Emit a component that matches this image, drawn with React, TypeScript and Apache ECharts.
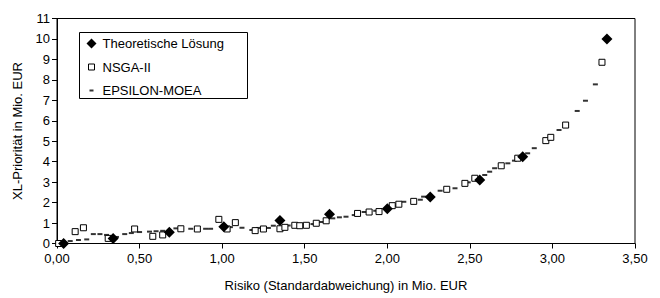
import React, { useEffect, useRef } from "react";
import * as echarts from "echarts";

const xTickLabels = ["0,00", "0,50", "1,00", "1,50", "2,00", "2,50", "3,00", "3,50"];
const yTickLabels = ["0", "1", "2", "3", "4", "5", "6", "7", "8", "9", "10", "11"];

const seriesNames = ["Theoretische Lösung", "NSGA-II", "EPSILON-MOEA"];

const theoretisch: number[][] = [
  [0.04, 0], [0.34, 0.25], [0.68, 0.55], [1.01, 0.82], [1.35, 1.12], [1.65, 1.43],
  [2.0, 1.7], [2.26, 2.27], [2.56, 3.1], [2.82, 4.24], [3.33, 10.0],
];

const nsga: number[][] = [
  [0.01, 0], [0.11, 0.58], [0.16, 0.77], [0.31, 0.25], [0.47, 0.71], [0.58, 0.35],
  [0.64, 0.42], [0.75, 0.72], [0.85, 0.71], [0.98, 1.18], [1.03, 0.71], [1.08, 1.02],
  [1.2, 0.63], [1.25, 0.71], [1.35, 0.72], [1.38, 0.79], [1.44, 0.89], [1.47, 0.87],
  [1.51, 0.89], [1.57, 0.99], [1.63, 1.11], [1.82, 1.47], [1.89, 1.54], [1.95, 1.56],
  [2.03, 1.85], [2.07, 1.92], [2.16, 2.06], [2.36, 2.65], [2.47, 2.94], [2.53, 3.19],
  [2.69, 3.8], [2.79, 4.17], [2.96, 5.03], [2.99, 5.19], [3.08, 5.79], [3.3, 8.86],
];

const epsilon: number[][] = [
  [0.08, 0.12], [0.13, 0.17], [0.18, 0.2], [0.22, 0.46], [0.26, 0.46], [0.3, 0.42],
  [0.36, 0.32], [0.41, 0.46], [0.45, 0.51], [0.5, 0.56], [0.56, 0.58], [0.6, 0.6],
  [0.64, 0.62], [0.72, 0.74], [0.81, 0.72], [0.9, 0.72], [0.93, 0.72], [1.05, 0.8],
  [1.12, 0.77], [1.18, 0.66], [1.22, 0.76], [1.28, 0.76], [1.31, 0.87], [1.4, 0.88],
  [1.46, 0.9], [1.55, 0.95], [1.6, 1.05], [1.67, 1.23], [1.71, 1.28], [1.75, 1.31],
  [1.8, 1.39], [1.86, 1.54], [1.93, 1.6], [2.0, 1.72], [2.05, 1.85], [2.1, 2.04],
  [2.2, 2.14], [2.22, 2.29], [2.32, 2.58], [2.41, 2.7], [2.49, 2.99], [2.59, 3.35],
  [2.62, 3.51], [2.65, 3.68], [2.73, 3.92], [2.77, 4.05], [2.85, 4.41], [2.89, 4.66],
  [2.99, 5.27], [3.04, 5.55], [3.15, 6.48], [3.2, 6.98], [3.26, 7.78],
];

const FONT = "Liberation Sans, Arial, sans-serif";

export default function App() {
  const ref = useRef<HTMLDivElement>(null);
  useEffect(() => {
    document.body.style.margin = "0";
    if (!ref.current) return;
    const chart = echarts.init(ref.current, null, { renderer: "svg" });
    const txt = { color: "#000", fontFamily: FONT, fontSize: 13 };
    chart.setOption({
      animation: false,
      backgroundColor: "#fff",
      textStyle: { fontFamily: FONT },
      grid: {
        left: 57, right: 25, top: 18.5, bottom: 54.5,
        show: true, borderColor: "#000", borderWidth: 1, backgroundColor: "transparent",
      },
      graphic: [
        {
          type: "rect", left: 79, top: 32, z: 0,
          shape: { width: 168, height: 66 },
          style: { fill: "#fff", stroke: "#000", lineWidth: 1 },
        },
      ],
      legend: {
        orient: "vertical", left: 85, top: 37, padding: 0, itemGap: 10.5,
        itemWidth: 12, itemHeight: 12, z: 10,
        textStyle: { ...txt },
        data: [
          {
            name: seriesNames[0],
            icon: "path://M0,0L0,0M12,12L12,12M6,1L11,6L6,11L1,6Z",
            itemStyle: { color: "#000", borderWidth: 0 },
          },
          {
            name: seriesNames[1],
            icon: "path://M0,0L0,0M12,12L12,12M3,3L9,3L9,9L3,9Z",
            itemStyle: { color: "#fff", borderColor: "#000", borderWidth: 1 },
          },
          {
            name: seriesNames[2],
            icon: "path://M0,0L0,0M12,12L12,12M4,5L8,5L8,7L4,7Z",
            itemStyle: { color: "#000", borderWidth: 0 },
          },
        ],
      },
      xAxis: {
        type: "value", min: 0, max: 3.5, interval: 0.5,
        name: "Risiko (Standardabweichung) in Mio. EUR",
        nameLocation: "middle", nameGap: 35,
        nameTextStyle: { ...txt },
        axisLine: { show: true, lineStyle: { color: "#000", width: 1 } },
        axisTick: { show: true, inside: false, length: 5, lineStyle: { color: "#000" } },
        axisLabel: {
          ...txt, margin: 8,
          formatter: (v: number) => xTickLabels[Math.round(v / 0.5)] ?? "",
        },
        splitLine: { show: false },
      },
      yAxis: {
        type: "value", min: 0, max: 11, interval: 1,
        name: "XL-Priorität in Mio. EUR",
        nameLocation: "middle", nameGap: 33,
        nameTextStyle: { ...txt },
        axisLine: { show: true, lineStyle: { color: "#000", width: 1 } },
        axisTick: { show: true, inside: false, length: 5, lineStyle: { color: "#000" } },
        axisLabel: {
          ...txt, margin: 7,
          formatter: (v: number) => yTickLabels[Math.round(v)] ?? "",
        },
        splitLine: { show: false },
      },
      series: [
        {
          name: seriesNames[2], type: "scatter", data: epsilon, z: 2,
          symbol: "rect", symbolSize: [5, 2],
          itemStyle: { color: "#000", borderWidth: 0 },
        },
        {
          name: seriesNames[1], type: "scatter", data: nsga, z: 3,
          symbol: "rect", symbolSize: 6,
          itemStyle: { color: "#fff", borderColor: "#000", borderWidth: 1, opacity: 1 },
        },
        {
          name: seriesNames[0], type: "scatter", data: theoretisch, z: 4,
          symbol: "diamond", symbolSize: 11,
          itemStyle: { color: "#000", borderWidth: 0, opacity: 1 },
        },
      ],
    });
    return () => chart.dispose();
  }, []);
  return <div ref={ref} style={{ width: 660, height: 298 }} />;
}
